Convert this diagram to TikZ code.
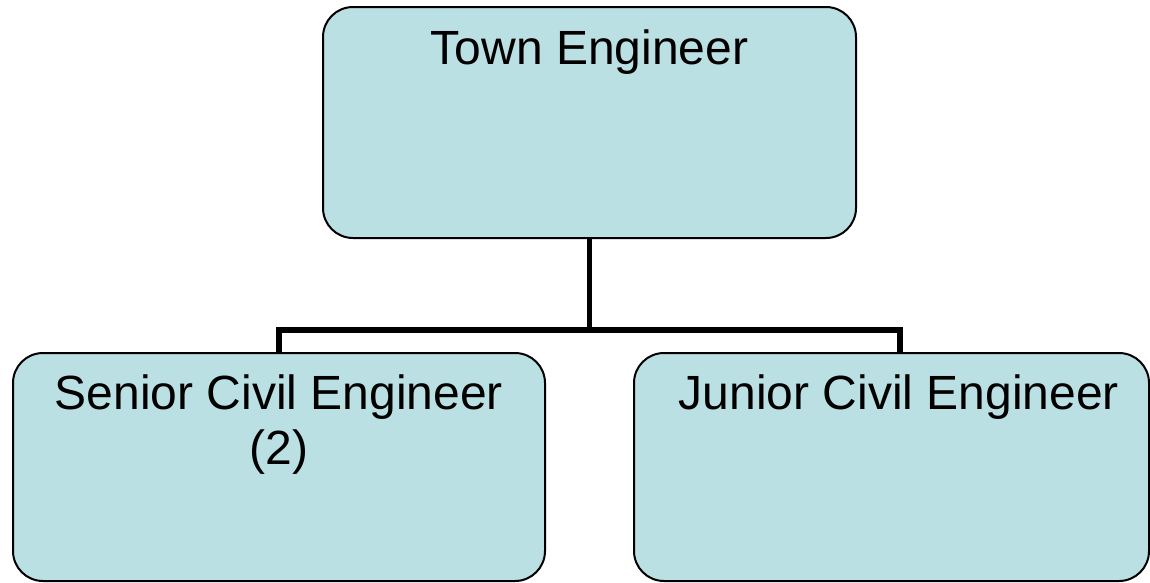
\documentclass[tikz,border=0pt]{standalone}
\usepackage{fontspec}
\setmainfont{Liberation Sans}
\usetikzlibrary{positioning,calc}
\definecolor{postfill}{HTML}{BAE0E3}

\begin{document}
\begin{tikzpicture}[x=1pt,y=-1pt,
    post/.style={draw=black,fill=postfill,line width=2pt,rounded corners=30pt},
    title/.style={anchor=base,inner sep=0pt,align=center,
      font=\fontsize{48}{55}\selectfont},
    link/.style={draw=black,line width=5.5pt}]
  \useasboundingbox (0,0) rectangle (1150,582);

  % boxes
  \node[post,minimum width=533pt,minimum height=231pt] (town) at (589.5,122.5) {};
  \node[post,minimum width=532pt,minimum height=228pt] (senior) at (279,467) {};
  \node[post,minimum width=515pt,minimum height=228pt] (junior) at (891.5,467) {};

  % titles (base of the last line)
  \node[title] (towntext) at ($(town.north)+(0,58)$) {Town Engineer};
  \node[title] (seniortext) at ($(senior.north)+(0,112)$) {Senior Civil Engineer\\(2)};
  \node[title] (juniortext) at ($(junior.north)+(7.5,57)$) {Junior Civil Engineer};

  % connectors
  \coordinate (bar) at ($(town.south)+(0,91)$);
  \coordinate (juniordrop) at ($(junior.north)+(8.5,0)$);
  \draw[link] (town.south) -- (bar);
  \draw[link] (senior.north) |- (bar) -| (juniordrop);
\end{tikzpicture}
\end{document}
